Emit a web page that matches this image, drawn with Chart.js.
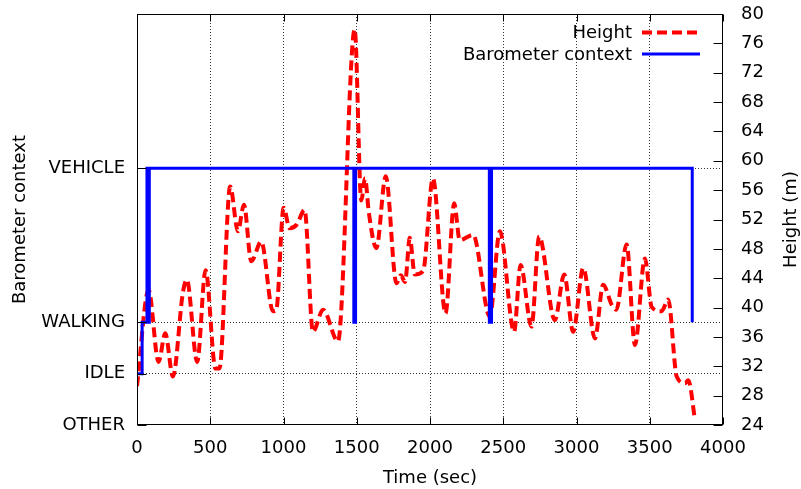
<!DOCTYPE html>
<html><head><meta charset="utf-8">
<script src="https://cdn.jsdelivr.net/npm/chart.js@4.4.1/dist/chart.umd.min.js"></script>
<style>html,body{margin:0;padding:0;background:#fff}</style>
</head><body>
<canvas id="c" width="801" height="489"></canvas>
<script>
// ---- data ----
const heightTimes = [0, 79, 147, 193, 245, 313, 340, 411, 468, 536, 563, 636, 689, 730, 780, 848, 928, 950, 1001, 1042, 1090, 1144, 1201, 1270, 1372, 1486, 1531, 1557, 1582, 1634, 1698, 1771, 1800, 1830, 1862, 1896, 1953, 2020, 2106, 2165, 2203, 2294, 2408, 2477, 2574, 2618, 2693, 2745, 2852, 2916, 2977, 3046, 3126, 3182, 3240, 3272, 3342, 3399, 3467, 3513, 3581, 3626, 3684, 3740, 3763, 3809];
const heightValues = [29.3, 42.4, 32.6, 36.5, 30.6, 42.0, 43.8, 32.6, 45.1, 31.7, 31.7, 56.5, 50.4, 54.0, 46.3, 49.0, 39.5, 39.6, 53.6, 50.8, 51.3, 53.3, 36.7, 39.7, 35.4, 77.9, 54.6, 57.6, 53.0, 48.1, 57.9, 43.3, 44.4, 43.5, 49.5, 44.5, 45.0, 57.6, 39.2, 54.2, 49.2, 49.9, 38.8, 50.4, 36.7, 45.8, 37.4, 49.7, 38.3, 44.5, 36.7, 45.4, 35.8, 43.1, 40.4, 39.7, 48.6, 34.9, 46.7, 40.1, 39.5, 41.1, 30.6, 29.7, 30.1, 24.7];

const contextTimes  = [0, 35, 68, 76, 84, 1480, 1484, 1488, 1492, 2405, 2410, 2415, 2420, 3790];
const contextStates = ['IDLE', 'WALKING', 'VEHICLE', 'WALKING', 'VEHICLE', 'WALKING', 'VEHICLE', 'WALKING', 'VEHICLE', 'WALKING', 'VEHICLE', 'WALKING', 'VEHICLE', 'WALKING'];

const stateNames = ['OTHER', 'IDLE', 'WALKING', 'VEHICLE'];
const stateCodes = [0, 1, 2, 5];

const timeTicks = [0, 500, 1000, 1500, 2000, 2500, 3000, 3500, 4000];
const heightTicks = [24, 28, 32, 36, 40, 44, 48, 52, 56, 60, 64, 68, 72, 76, 80];

const seriesLabels = ['Height', 'Barometer context'];
const xTitle = 'Time (sec)';
const yTitle = 'Barometer context';
const y2Title = 'Height (m)';

// ---- chart ----
Chart.defaults.font.family = "'DejaVu Sans', sans-serif";
Chart.defaults.font.size = 18;
Chart.defaults.color = '#000';

const FONT = "18px 'DejaVu Sans', sans-serif";
const GRID = 'rgba(0,0,0,0.8)';

const decor = {
  id: 'decor',
  afterDatasetsDraw(chart) {
    const ctx = chart.ctx;
    const a = chart.chartArea;
    const sx = chart.scales.x, sy = chart.scales.y, sy2 = chart.scales.y2;
    ctx.save();
    ctx.strokeStyle = '#000';
    ctx.lineWidth = 1;
    ctx.setLineDash([]);
    const L = Math.round(a.left) + 0.5, R = Math.round(a.right) - 0.5;
    const T = Math.round(a.top) + 0.5, B = Math.round(a.bottom) - 0.5;
    ctx.strokeRect(L, T, R - L, B - T);
    ctx.beginPath();
    timeTicks.forEach(v => {
      const px = Math.round(sx.getPixelForValue(v)) + 0.5;
      ctx.moveTo(px, B); ctx.lineTo(px, B - 7);
      ctx.moveTo(px, T); ctx.lineTo(px, T + 7);
    });
    stateCodes.forEach(v => {
      const py = Math.round(sy.getPixelForValue(v)) + 0.5;
      ctx.moveTo(L, py); ctx.lineTo(L + 9, py);
    });
    heightTicks.forEach(v => {
      const py = Math.round(sy2.getPixelForValue(v)) + 0.5;
      ctx.moveTo(R, py); ctx.lineTo(R - 9, py);
    });
    ctx.stroke();

    // legend (gnuplot style: text then sample, top right inside)
    ctx.font = FONT;
    ctx.fillStyle = '#000';
    ctx.textAlign = 'right';
    ctx.textBaseline = 'middle';
    chart.data.datasets.forEach((ds, i) => {
      const y = a.top + 18.5 + i * 21.5;
      ctx.fillText(ds.label, a.right - 91, y + 1);
      ctx.save();
      ctx.strokeStyle = ds.borderColor;
      ctx.lineWidth = ds.borderWidth;
      ctx.setLineDash(ds.borderDash || []);
      ctx.beginPath();
      ctx.moveTo(a.right - 81, y);
      ctx.lineTo(a.right - 23, y);
      ctx.stroke();
      ctx.restore();
    });

    // right axis title, reading bottom-to-top
    ctx.save();
    ctx.translate(chart.width - 10, (a.top + a.bottom) / 2);
    ctx.rotate(-Math.PI / 2);
    ctx.textAlign = 'center';
    ctx.textBaseline = 'middle';
    ctx.fillText(y2Title, 0, 0);
    ctx.restore();
    ctx.restore();
  }
};

new Chart(document.getElementById('c'), {
  type: 'line',
  data: {
    datasets: [
      {
        label: seriesLabels[0],
        data: heightTimes.map((t, i) => ({ x: t, y: heightValues[i] })),
        yAxisID: 'y2',
        borderColor: '#ff0000',
        borderWidth: 4,
        borderDash: [10, 5],
        pointRadius: 0,
        cubicInterpolationMode: 'monotone',
        fill: false,
        order: 2
      },
      {
        label: seriesLabels[1],
        data: contextTimes.map((t, i) => ({ x: t, y: stateCodes[stateNames.indexOf(contextStates[i])] })),
        yAxisID: 'y',
        borderColor: '#0000ff',
        borderWidth: 3,
        stepped: 'before',
        pointRadius: 0,
        fill: false,
        order: 1
      }
    ]
  },
  options: {
    responsive: false,
    animation: false,
    devicePixelRatio: 1,
    layout: { padding: { top: 14, left: 0, right: 0, bottom: 0 } },
    plugins: { legend: { display: false }, tooltip: { enabled: false } },
    scales: {
      x: {
        type: 'linear', min: timeTicks[0], max: timeTicks[timeTicks.length - 1],
        afterBuildTicks: s => { s.ticks = timeTicks.map(v => ({ value: v })); },
        ticks: { padding: 13, maxRotation: 0, minRotation: 0, autoSkip: false, callback: v => String(v) },
        grid: {
          drawTicks: false, lineWidth: 1,
          color: c => (c.tick && (c.tick.value === timeTicks[0] || c.tick.value === timeTicks[timeTicks.length - 1])) ? 'rgba(0,0,0,0)' : GRID
        },
        border: { display: false, dash: [1, 2] },
        title: { display: true, text: xTitle, padding: { top: 0, bottom: 0 } },
        afterFit: s => { s.height = 64; s.paddingLeft = 0; s.paddingRight = 0; }
      },
      y: {
        type: 'linear', position: 'left', min: 0, max: 8,
        afterBuildTicks: s => { s.ticks = stateCodes.map(v => ({ value: v })); },
        ticks: { padding: 12, autoSkip: false, callback: v => stateNames[stateCodes.indexOf(v)] },
        grid: {
          drawTicks: false, lineWidth: 1,
          color: c => (c.tick && c.tick.value === stateCodes[0]) ? 'rgba(0,0,0,0)' : GRID
        },
        border: { display: false, dash: [1, 2] },
        title: { display: true, text: yTitle, padding: { top: 10, bottom: 0 } },
        afterFit: s => { s.width = 137; s.paddingTop = 0; s.paddingBottom = 0; }
      },
      y2: {
        type: 'linear', position: 'right', min: heightTicks[0], max: heightTicks[heightTicks.length - 1],
        afterBuildTicks: s => { s.ticks = heightTicks.map(v => ({ value: v })); },
        ticks: { padding: 18, autoSkip: false, callback: v => String(v) },
        grid: { display: false, drawTicks: false },
        border: { display: false },
        afterFit: s => { s.width = 78; s.paddingTop = 0; s.paddingBottom = 0; }
      }
    }
  },
  plugins: [decor]
});
</script>
</body></html>
